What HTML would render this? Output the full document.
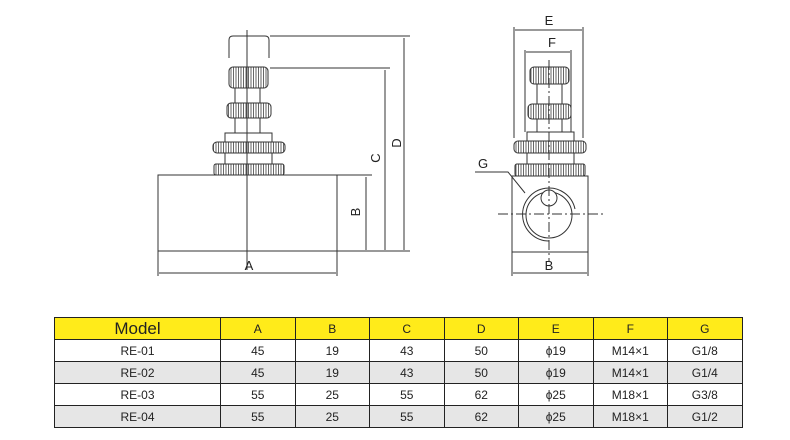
<!DOCTYPE html>
<html><head><meta charset="utf-8"><style>
body{margin:0;background:#fff;width:790px;height:440px;position:relative;overflow:hidden;font-family:"Liberation Sans",sans-serif}
svg{position:absolute;left:0;top:0}
table{position:absolute;left:54px;top:317px;border-collapse:collapse;width:688px;table-layout:fixed}
td{border:1px solid #222;height:21px;padding:0;text-align:center;font-size:12px;color:#222}
tr.h td{background:#ffeb1a;font-size:12px}
tr.h td.m{font-size:17px}
tr.g td{background:#e6e6e6}
</style></head><body>
<svg width="790" height="310" viewBox="0 0 790 310" fill="none" stroke="#333" stroke-width="1">
<defs><pattern id="k" width="2.5" height="10" patternUnits="userSpaceOnUse"><rect width="2.5" height="10" fill="#fff" stroke="none"/><line x1="1" y1="0" x2="1" y2="10" stroke="#555" stroke-width="0.9"/></pattern></defs>
<!-- LEFT -->
<path d="M229 58 V40 Q229 36 233 36 H265 Q269 36 269 40 V58"/>
<rect x="229" y="67" width="39" height="21" rx="4" fill="url(#k)"/>
<line x1="235" y1="88" x2="235" y2="133"/><line x1="260" y1="88" x2="260" y2="133"/>
<rect x="227" y="103" width="44" height="15" rx="4" fill="url(#k)"/>
<rect x="225" y="133" width="47" height="9" fill="#fff"/>
<rect x="213" y="142" width="72" height="11" rx="4" fill="url(#k)"/>
<rect x="225" y="153" width="47" height="11" fill="#fff"/>
<rect x="214" y="164" width="70" height="11" rx="2" fill="url(#k)"/>
<rect x="158" y="175" width="179" height="76" fill="#fff"/>
<line x1="247" y1="30" x2="247" y2="270"/>
<line x1="270" y1="36" x2="410" y2="36"/><line x1="270" y1="68" x2="390" y2="68"/>
<line x1="337" y1="175" x2="372" y2="175"/><line x1="337" y1="251" x2="410" y2="251"/>
<line x1="404" y1="38" x2="404" y2="250"/><line x1="385" y1="70" x2="385" y2="250"/><line x1="366" y1="177" x2="366" y2="250"/>
<line x1="158" y1="251" x2="158" y2="276"/><line x1="337" y1="251" x2="337" y2="276"/>
<line x1="159" y1="273" x2="336" y2="273"/>
<g fill="#222" stroke="none" font-size="13" font-family="Liberation Sans,sans-serif">
<text x="249" y="270" text-anchor="middle">A</text>
<text transform="translate(401,143) rotate(-90)" text-anchor="middle">D</text>
<text transform="translate(380,158) rotate(-90)" text-anchor="middle">C</text>
<text transform="translate(360,212) rotate(-90)" text-anchor="middle">B</text>
<text x="549" y="25" text-anchor="middle">E</text>
<text x="552" y="47" text-anchor="middle">F</text>
<text x="483" y="168" text-anchor="middle">G</text>
<text x="549" y="270" text-anchor="middle">B</text>
</g>
<!-- RIGHT -->
<line x1="514" y1="27" x2="514" y2="138"/><line x1="583" y1="27" x2="583" y2="138"/>
<line x1="515" y1="30" x2="582" y2="30"/>
<line x1="525" y1="50" x2="525" y2="132"/><line x1="571" y1="50" x2="571" y2="132"/>
<line x1="526" y1="52" x2="570" y2="52"/>
<rect x="530" y="67" width="39" height="17" rx="4" fill="url(#k)"/>
<line x1="537" y1="84" x2="537" y2="132"/><line x1="562" y1="84" x2="562" y2="132"/>
<rect x="528" y="104" width="43" height="15" rx="4" fill="url(#k)"/>
<rect x="527" y="132" width="47" height="9" fill="#fff"/>
<rect x="514" y="141" width="72" height="12" rx="4" fill="url(#k)"/>
<rect x="527" y="153" width="47" height="11" fill="#fff"/>
<rect x="515" y="164" width="70" height="12" rx="2" fill="url(#k)"/>
<rect x="512" y="176" width="76" height="76" fill="#fff"/>
<path d="M575 209 A26.5 26.5 0 1 0 549 241"/>
<circle cx="549" cy="215" r="23"/>
<circle cx="549" cy="198" r="8" fill="#fff"/>
<line x1="498" y1="214" x2="603" y2="214" stroke-dasharray="10 3 2 3"/>
<line x1="549" y1="60" x2="549" y2="262" stroke-dasharray="10 3 2 3"/>
<path d="M475 172 H508 L525 193"/>
<line x1="512" y1="252" x2="512" y2="276"/><line x1="588" y1="252" x2="588" y2="276"/>
<line x1="513" y1="273" x2="587" y2="273"/>
</svg>
<table>
<colgroup><col style="width:166px"><col span="7" style="width:74.5px"></colgroup>
<tr class="h"><td class="m">Model</td><td>A</td><td>B</td><td>C</td><td>D</td><td>E</td><td>F</td><td>G</td></tr>
<tr><td>RE-01</td><td>45</td><td>19</td><td>43</td><td>50</td><td>ϕ19</td><td>M14×1</td><td>G1/8</td></tr>
<tr class="g"><td>RE-02</td><td>45</td><td>19</td><td>43</td><td>50</td><td>ϕ19</td><td>M14×1</td><td>G1/4</td></tr>
<tr><td>RE-03</td><td>55</td><td>25</td><td>55</td><td>62</td><td>ϕ25</td><td>M18×1</td><td>G3/8</td></tr>
<tr class="g"><td>RE-04</td><td>55</td><td>25</td><td>55</td><td>62</td><td>ϕ25</td><td>M18×1</td><td>G1/2</td></tr>
</table>
</body></html>
